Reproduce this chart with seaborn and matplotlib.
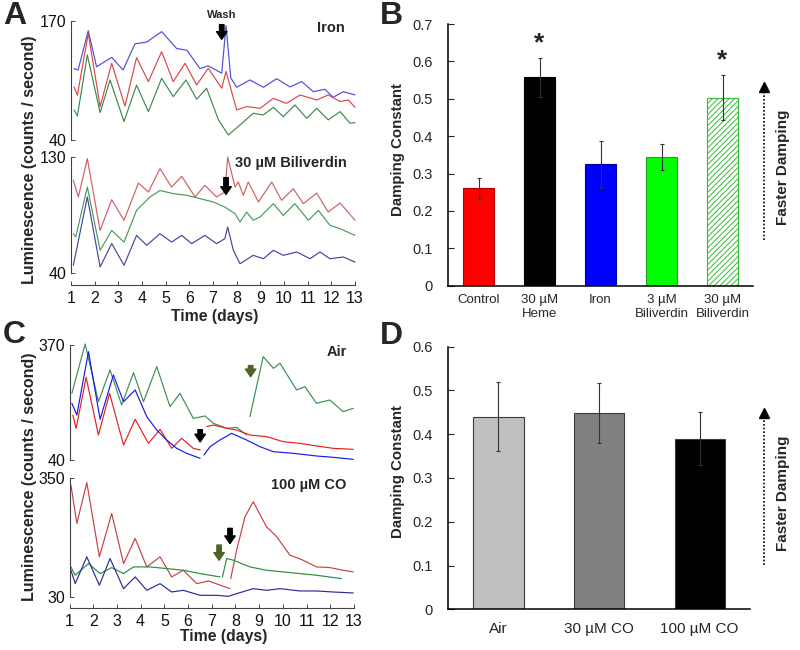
import numpy as np
import pandas as pd
import matplotlib
matplotlib.use("Agg")
import matplotlib.pyplot as plt
import seaborn as sns
from matplotlib.lines import Line2D

sns.set_theme(style="ticks")
plt.rcParams["font.family"] = ["Liberation Sans", "DejaVu Sans"]
plt.rcParams["hatch.linewidth"] = 0.7

# ---------------- Panel A (top: Iron) ----------------
a1_blue_days = [1.13, 1.3, 1.73, 2.08, 2.72, 3.2, 3.7, 4.2, 4.83, 5.46, 5.9, 6.45, 6.8, 7.37, 7.55, 7.75, 8.0, 8.56, 9.13, 9.69, 10.25, 10.75, 11.24, 11.73, 12.08, 12.5, 13.0]
a1_blue_vals = [118, 116.5, 159.4, 120, 130.3, 116.5, 145, 147, 158.4, 140, 138, 118, 121, 113, 165, 108, 97.6, 105.6, 97.6, 107, 98, 103.8, 92.8, 95.4, 86.6, 92.8, 89.2]
a1_red_days = [1.13, 1.27, 1.73, 2.23, 2.72, 3.28, 3.77, 4.27, 4.83, 5.32, 5.82, 6.31, 6.8, 7.37, 7.55, 8.0, 8.42, 8.99, 9.55, 10.1, 10.68, 11.38, 11.87, 12.37, 12.72, 13.0]
a1_red_vals = [98, 89, 156.5, 76.5, 123.8, 77, 130, 103.8, 136.5, 103.8, 123.8, 100, 118.3, 96.5, 115, 72.8, 76.5, 74.6, 85.5, 80, 89.2, 83.7, 89.2, 82, 83.7, 75.7]
a1_green_days = [1.13, 1.27, 1.69, 2.23, 2.65, 3.24, 3.77, 4.27, 4.83, 5.32, 5.86, 6.31, 6.73, 7.23, 7.65, 8.14, 8.7, 9.13, 9.55, 9.97, 10.46, 10.96, 11.38, 11.87, 12.37, 12.79, 13.0]
a1_green_vals = [72.8, 66.3, 132.9, 70, 105.6, 60.1, 100, 71, 107.4, 87.4, 105.6, 84.5, 96.5, 62, 45.5, 56.4, 69.2, 67.4, 75.7, 65.5, 78.3, 63.7, 74.6, 62, 71, 58.3, 59]

# ---------------- Panel A (bottom: 30 uM Biliverdin) ----------------
a2_red_days = [1.1, 1.31, 1.69, 2.23, 2.72, 3.24, 3.85, 4.27, 4.76, 5.25, 5.68, 6.24, 6.66, 7.15, 7.5, 7.62, 7.93, 8.07, 8.28, 8.49, 8.92, 9.48, 9.9, 10.39, 10.82, 11.38, 11.87, 12.37, 13.0]
a2_red_vals = [111.9, 99, 128.7, 73, 96.9, 80.9, 109.8, 102.8, 121, 106.7, 115, 99, 108, 99, 102.8, 130, 106.7, 110.6, 100.3, 110.6, 95.1, 110.6, 96.4, 105.4, 93.8, 102, 87.3, 94.3, 80.9]
a2_green_days = [1.1, 1.2, 1.69, 2.23, 2.72, 3.24, 3.77, 4.34, 4.76, 5.32, 5.89, 6.45, 7.01, 7.5, 7.93, 8.14, 8.42, 8.7, 8.99, 9.55, 9.97, 10.46, 11.03, 11.45, 11.94, 12.37, 13.0]
a2_green_vals = [70.5, 68, 106.7, 57.6, 73, 64, 88.6, 99, 104, 101.6, 100.3, 97.7, 95.1, 91.2, 86, 79.6, 87.3, 80.9, 83.5, 93.8, 84.7, 93.8, 80.9, 88.6, 77, 74.4, 69.2]
a2_blue_days = [1.1, 1.69, 2.23, 2.72, 3.24, 3.77, 4.2, 4.76, 5.25, 5.68, 6.1, 6.66, 7.15, 7.5, 7.62, 7.86, 8.14, 8.7, 9.13, 9.55, 9.97, 10.54, 11.1, 11.52, 11.94, 12.51, 13.0]
a2_blue_vals = [46, 99, 44.7, 62.8, 46, 69.2, 61.5, 70.5, 64, 69.2, 62.8, 69.2, 62.8, 66.6, 75.7, 57.6, 47.2, 53.7, 51.1, 57.6, 53.7, 56.3, 51.1, 56.3, 51.1, 52.4, 48.5]

# ---------------- Panel C (top: Air) ----------------
c1_green_days = [1.1, 1.66, 2.22, 2.71, 3.2, 3.7, 4.12, 4.68, 5.24, 5.66, 6.22, 6.72, 7.07, 7.63, 8.05, 8.47, np.nan, 8.61, 9.17, 9.6, 9.88, 10.58, 10.93, 11.42, 11.98, 12.54, 12.97]
c1_green_vals = [231.3, 372.9, 207.4, 298.3, 197.8, 290.6, 207.4, 307.8, 193, 231.3, 159.6, 166.3, 145.2, 131, 133.7, 111.7, np.nan, 164.4, 336.5, 303, 317.4, 240.9, 250.4, 202.6, 212.2, 178.7, 188.3]
c1_blue_days = [1.1, 1.31, 1.8, 2.29, 2.85, 3.28, 3.77, 4.26, 4.68, 5.1, 5.52, 5.94, 6.51, np.nan, 6.67, 6.93, 7.35, 7.84, 8.47, 9.03, 9.6, 10.44, 11.42, 12.12, 12.97]
c1_blue_vals = [202.6, 169, 350.9, 156.7, 283.9, 207.4, 240.9, 164.4, 126.1, 97.4, 73.5, 59.1, 44.8, np.nan, 54.3, 78.3, 97.4, 116.5, 97.4, 78.3, 63.9, 59.1, 51.5, 47.7, 41.9]
c1_red_days = [1.14, 1.28, 1.7, 2.22, 2.69, 3.28, 3.77, 4.33, 4.82, 5.31, 5.73, 6.22, 6.51, np.nan, 6.79, 7.07, 7.63, 8.05, 8.61, 9.31, 10.02, 10.72, 11.42, 12.12, 12.97]
c1_red_vals = [169, 130.9, 277.2, 111.7, 231.3, 83, 156.7, 87.8, 128, 73.5, 102.2, 73.5, 68.7, np.nan, 135.7, 140.4, 131, 126.1, 111.7, 107, 92.6, 87.8, 80.2, 73.5, 70.6]

# ---------------- Panel C (bottom: 100 uM CO) ----------------
c2_red_days = [1.06, 1.31, 1.73, 2.26, 2.78, 3.28, 3.77, 4.26, 4.82, 5.31, 5.8, 6.37, 6.86, 7.77, np.nan, 7.8, 8.05, 8.4, 8.75, 9.31, 9.74, 10.3, 10.79, 11.42, 11.98, 12.54, 12.97]
c2_red_vals = [332, 228.3, 338.3, 138.2, 255.4, 120.1, 187.8, 111.1, 138.2, 84.1, 102.1, 66, 73.3, 52.5, np.nan, 79.6, 156.2, 246, 286.9, 219.3, 192.3, 142.7, 131, 111.1, 109.3, 102.1, 97.6]
c2_green_days = [1.06, 1.24, 1.8, 2.29, 2.78, 3.28, 3.7, 4.4, 5.1, 5.8, 6.51, 7.35, np.nan, 7.45, 7.63, 7.91, 8.61, 9.31, 10.02, 10.72, 11.42, 12.47]
c2_green_vals = [111.1, 88.6, 120.1, 93.1, 109.3, 93.1, 111.1, 111.1, 106.6, 102.1, 93.1, 84.1, np.nan, 84, 133.7, 129.2, 111.1, 102.1, 97.6, 93.1, 88.6, 79.6]
c2_blue_days = [1.06, 1.24, 1.73, 2.26, 2.71, 3.28, 3.77, 4.26, 4.82, 5.31, 5.8, 6.51, 7.21, 7.7, 8.05, 8.75, 9.31, 9.88, 10.72, 11.42, 12.12, 12.97]
c2_blue_vals = [102.1, 66, 138.2, 61.6, 133.7, 52.5, 84.1, 48, 66, 43.5, 48, 34.5, 34.5, 31.8, 39, 52.5, 48, 52.5, 46.2, 46.2, 43.5, 40.8]

day_ticks = list(range(1, 14))

# ---------------- Panel B ----------------
b_labels = ["Control", "30 µM\nHeme", "Iron", "3 µM\nBiliverdin", "30 µM\nBiliverdin"]
b_values = [0.262, 0.557, 0.325, 0.344, 0.503]
b_errors = [0.027, 0.052, 0.063, 0.034, 0.061]
b_colors = ["#FF0000", "#000000", "#0000FF", "#00FF00", "#FFFFFF"]
b_edges = ["#B00000", "#000000", "#0000A0", "#22A022", "#33BB33"]
b_star_index = [1, 4]

# ---------------- Panel D ----------------
d_labels = ["Air", "30 µM CO", "100 µM CO"]
d_values = [0.44, 0.449, 0.39]
d_errors = [0.079, 0.069, 0.06]
d_colors = ["#C0C0C0", "#808080", "#000000"]

W, H = 800, 650
fig = plt.figure(figsize=(8, 6.5), dpi=100)


def rect(l, t, r, b):
    return [l / W, 1 - b / H, (r - l) / W, (b - t) / H]


def fx(px):
    return px / W


def fy(py):
    return 1 - py / H


def trace_df(days, vals):
    d = np.array(days, float)
    v = np.array(vals, float)
    seg = np.cumsum(np.isnan(d))
    m = ~np.isnan(d)
    return pd.DataFrame({"day": d[m], "lum": v[m], "seg": seg[m]})


def draw_traces(ax, traces):
    for days, vals, color in traces:
        sns.lineplot(data=trace_df(days, vals), x="day", y="lum", units="seg",
                     estimator=None, sort=False, color=color, lw=0.85, ax=ax,
                     clip_on=False)


def style_trace_ax(ax, lo, hi, ybot, show_x):
    ax.set_xlim(1, 13)
    ax.set_ylim(ybot, hi)
    for s in ["top", "right"]:
        ax.spines[s].set_visible(False)
    ax.spines["left"].set_bounds(lo, hi)
    for s in ["left", "bottom"]:
        ax.spines[s].set_color("#444444")
        ax.spines[s].set_linewidth(0.8)
    ax.set_yticks([lo, hi])
    ax.set_yticklabels([str(lo), str(hi)])
    ax.tick_params(axis="y", direction="in", length=3, width=0.7, colors="#444444",
                   labelcolor="#111111", labelsize=11.5, pad=3)
    if show_x:
        ax.set_xticks(day_ticks)
        ax.set_xticklabels([str(d) for d in day_ticks])
        ax.tick_params(axis="x", direction="in", length=3, width=0.7, colors="#444444",
                       labelcolor="#111111", labelsize=11.5, pad=4)
    else:
        ax.spines["bottom"].set_visible(False)
        ax.set_xticks([])
    ax.set_xlabel("")
    ax.set_ylabel("")
    ax.patch.set_alpha(0)


def arrow(ax, x, y0, y1, color):
    ax.annotate("", xy=(x, y1), xytext=(x, y0), annotation_clip=False,
                arrowprops=dict(facecolor=color, edgecolor=color, width=3.2,
                                headwidth=7.5, headlength=5.5, shrink=0))


# ---- A top
axA1 = fig.add_axes(rect(71, 21, 355, 140))
draw_traces(axA1, [(a1_blue_days, a1_blue_vals, "#4F4FD8"),
                   (a1_red_days, a1_red_vals, "#D84848"),
                   (a1_green_days, a1_green_vals, "#3C8A50")])
style_trace_ax(axA1, 40, 170, 40, False)
axA1.text(12.58, 162.7, "Iron", ha="right", va="center", fontsize=10.5, fontweight="bold")
axA1.text(7.38, 176.5, "Wash", ha="center", va="center", fontsize=8, fontweight="bold")
arrow(axA1, 7.37, 166, 150, "black")

# ---- A bottom
axA2 = fig.add_axes(rect(71, 157, 355, 285))
draw_traces(axA2, [(a2_red_days, a2_red_vals, "#D06060"),
                   (a2_green_days, a2_green_vals, "#4A9A5A"),
                   (a2_blue_days, a2_blue_vals, "#45459A")])
style_trace_ax(axA2, 40, 130, 30.7, True)
axA2.text(12.65, 125.7, "30 µM Biliverdin", ha="right", va="center", fontsize=10.5, fontweight="bold")
arrow(axA2, 7.55, 114, 101, "black")

# ---- C top
axC1 = fig.add_axes(rect(69.5, 345, 354, 460))
draw_traces(axC1, [(c1_green_days, c1_green_vals, "#3E8E55"),
                   (c1_red_days, c1_red_vals, "#E62020"),
                   (c1_blue_days, c1_blue_vals, "#1A1AE6")])
style_trace_ax(axC1, 40, 370, 40, False)
axC1.text(12.69, 349, "Air", ha="right", va="center", fontsize=10.5, fontweight="bold")
arrow(axC1, 6.51, 127, 92, "black")
arrow(axC1, 8.64, 311, 279, "#4F6228")

# ---- C bottom
axC2 = fig.add_axes(rect(69.5, 478.3, 354, 608.3))
draw_traces(axC2, [(c2_red_days, c2_red_vals, "#C84040"),
                   (c2_green_days, c2_green_vals, "#2E8B3E"),
                   (c2_blue_days, c2_blue_vals, "#2A2A9A")])
style_trace_ax(axC2, 30, 350, -0.5, True)
axC2.text(12.69, 331.9, "100 µM CO", ha="right", va="center", fontsize=10.5, fontweight="bold")
arrow(axC2, 7.31, 170, 129, "#4F6228")
arrow(axC2, 7.77, 215, 174, "black")

for ylab_y in (160, 477):
    fig.text(fx(30), fy(ylab_y), "Luminescence (counts / second)", rotation=90,
             ha="center", va="center", fontsize=11.5, fontweight="bold")
fig.text(fx(215), fy(316), "Time (days)", ha="center", va="center", fontsize=11.3, fontweight="bold")
fig.text(fx(224), fy(637), "Time (days)", ha="center", va="center", fontsize=11.3, fontweight="bold")


def style_bar_ax(ax, ymax, xlabsize, xpad):
    for s in ["top", "right"]:
        ax.spines[s].set_visible(False)
    for s in ["left", "bottom"]:
        ax.spines[s].set_color("black")
        ax.spines[s].set_linewidth(1.1)
    ax.set_ylim(0, ymax)
    ticks = np.round(np.arange(0, ymax + 1e-9, 0.1), 1)
    ax.set_yticks(ticks)
    ax.set_yticklabels(["0" if t == 0 else f"{t:.1f}" for t in ticks])
    ax.tick_params(axis="y", direction="in", length=4, width=0.8, labelsize=10.5, pad=11)
    ax.tick_params(axis="x", length=0, labelsize=xlabsize, pad=xpad)
    ax.set_xlabel("")
    ax.set_ylabel("")


# ---- B
axB = fig.add_axes(rect(448, 24, 753, 285.7))
sns.barplot(x=b_labels, y=b_values, hue=b_labels, order=b_labels, hue_order=b_labels,
            palette=b_colors, legend=False, saturation=1, width=0.51, errorbar=None,
            ax=axB)
for patch, ec in zip(axB.patches, b_edges):
    patch.set_edgecolor(ec)
    patch.set_linewidth(0.8)
axB.patches[4].set_hatch("//////")
axB.errorbar(np.arange(len(b_values)), b_values, yerr=b_errors, fmt="none",
             ecolor="#333333", elinewidth=0.8, capsize=1.5, capthick=0.8)
for i in b_star_index:
    axB.text(i, b_values[i] + b_errors[i] + 0.02, "*", ha="center", va="baseline",
             fontsize=19, fontweight="bold")
axB.set_xlim(-0.5, len(b_values) - 0.5)
style_bar_ax(axB, 0.7, 9.5, 6)

# ---- D
axD = fig.add_axes(rect(448, 346.7, 750, 609.3))
sns.barplot(x=d_labels, y=d_values, hue=d_labels, order=d_labels, hue_order=d_labels,
            palette=d_colors, legend=False, saturation=1, width=0.5, errorbar=None,
            ax=axD)
for patch in axD.patches:
    patch.set_edgecolor("#3A3A3A")
    patch.set_linewidth(0.8)
axD.errorbar(np.arange(len(d_values)), d_values, yerr=d_errors, fmt="none",
             ecolor="#333333", elinewidth=0.8, capsize=1.5, capthick=0.8)
axD.set_xlim(-0.5, len(d_values) - 0.5)
style_bar_ax(axD, 0.6, 11, 9)

for y in (150, 472):
    fig.text(fx(398), fy(y), "Damping Constant", rotation=90, ha="center", va="center",
             fontsize=10.8, fontweight="bold")
for y in (167, 493):
    fig.text(fx(783), fy(y), "Faster Damping", rotation=90, ha="center", va="center",
             fontsize=11, fontweight="bold")
for y0, y1 in ((240, 83), (565, 409)):
    fig.add_artist(Line2D([fx(764), fx(764)], [fy(y0), fy(y1 + 7)], ls=(0, (1, 1.2)),
                          lw=1.2, color="black", transform=fig.transFigure))
    fig.add_artist(Line2D([fx(764)], [fy(y1 + 4)], marker="^", ms=6.5, color="black",
                          lw=0, transform=fig.transFigure))

for letter, x, y in (("A", 3, 16), ("B", 380, 16), ("C", 3, 335), ("D", 380, 336)):
    fig.text(fx(x), fy(y), letter, ha="left", va="center", fontsize=23, fontweight="bold")

fig.savefig("out.png", dpi=100)
